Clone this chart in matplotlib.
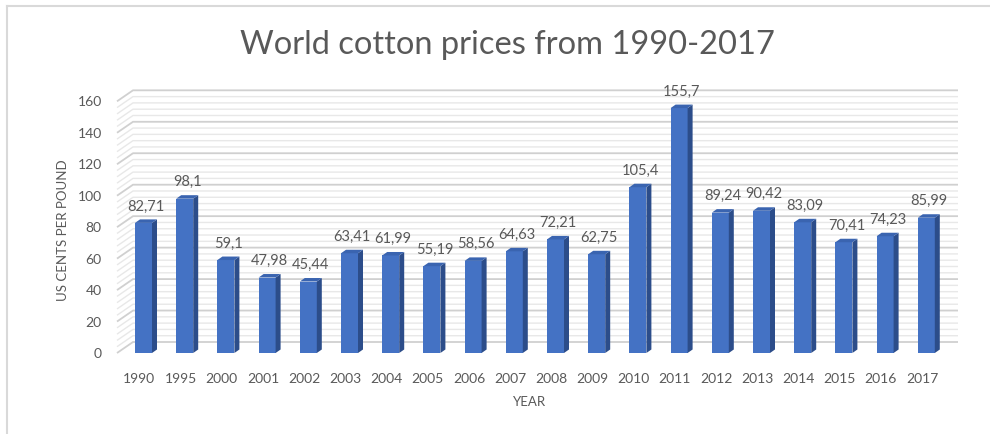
import matplotlib
matplotlib.use("Agg")
import matplotlib.pyplot as plt
from matplotlib.patches import Rectangle, Polygon
from matplotlib.lines import Line2D

years = ["1990", "1995", "2000", "2001", "2002", "2003", "2004", "2005", "2006", "2007",
         "2008", "2009", "2010", "2011", "2012", "2013", "2014", "2015", "2016", "2017"]
prices = [82.71, 98.1, 59.1, 47.98, 45.44, 63.41, 61.99, 55.19, 58.56, 64.63,
          72.21, 62.75, 105.4, 155.7, 89.24, 90.42, 83.09, 70.41, 74.23, 85.99]
labels = ["82,71", "98,1", "59,1", "47,98", "45,44", "63,41", "61,99", "55,19", "58,56", "64,63",
          "72,21", "62,75", "105,4", "155,7", "89,24", "90,42", "83,09", "70,41", "74,23", "85,99"]

plt.rcParams['font.family'] = ['Lato', 'DejaVu Sans']
TXT = "#595959"

W, H = 990, 434
fig = plt.figure(figsize=(W / 100, H / 100), dpi=100)

# axes placed in pixels so that the pseudo-3d pieces line up
px_x = 41.2      # pixels per category
px_y = 1.573     # pixels per price unit
x0_px, y0_px = 143.5, 353
L, R, T, B = 110, 965, 85, 370
ax = fig.add_axes([L / W, (H - B) / H, (R - L) / W, (B - T) / H])
ax.set_xlim((L - x0_px) / px_x, (R - x0_px) / px_x)
ax.set_ylim((y0_px - B) / px_y, (y0_px - T) / px_y)
for s in ax.spines.values():
    s.set_visible(False)

# back wall / side wall gridlines
wall_dx, wall_dy = 16 / px_x, 11 / px_y
x_front = (117 - x0_px) / px_x
x_right = (958 - x0_px) / px_x
for v in range(0, 161, 4):
    major = v % 20 == 0
    c = "#d0d0d0" if major else "#e8e8e8"
    lw = 1.3 if major else 1.0
    ax.plot([x_front, x_front + wall_dx, x_right], [v, v + wall_dy, v + wall_dy],
            color=c, lw=lw, zorder=1, solid_capstyle="butt")

# bars with side and top faces
bw = 17 / px_x
ddx, ddy = 5 / px_x, 3.5 / px_y
for i, v in enumerate(prices):
    ax.add_patch(Rectangle((i - bw / 2, 0), bw, v, facecolor="#4472c4", edgecolor="none", zorder=3))
    ax.add_patch(Polygon([(i + bw / 2, 0), (i + bw / 2 + ddx, ddy), (i + bw / 2 + ddx, v + ddy),
                          (i + bw / 2, v)], closed=True, facecolor="#2c4d8a", edgecolor="none", zorder=3))
    ax.add_patch(Polygon([(i - bw / 2, v), (i + bw / 2, v), (i + bw / 2 + ddx, v + ddy),
                          (i - bw / 2 + ddx, v + ddy)], closed=True, facecolor="#3a64b0",
                         edgecolor="none", zorder=3))
    ax.annotate(labels[i], (i + ddx / 2, v + ddy), xytext=(0, 6), textcoords="offset pixels",
                ha="center", va="bottom", fontsize=10.5, color=TXT, zorder=4)

ax.set_xticks([i - 0.1 for i in range(len(years))])
ax.set_xticklabels(years, fontsize=10, color=TXT)
ax.set_yticks(range(0, 161, 20))
ax.set_yticklabels([str(v) for v in range(0, 161, 20)], fontsize=10, color=TXT)
ax.tick_params(axis="x", length=0, pad=2)
ax.tick_params(axis="y", length=0, pad=6)

fig.text(63 / W, 1 - 230 / H, "US CENTS PER POUND", rotation=90, ha="center", va="center",
         fontsize=9.5, color=TXT)
fig.text(530 / W, 1 - 402 / H, "YEAR", ha="center", va="center", fontsize=9.5, color=TXT)
fig.text(507 / W, 1 - 45 / H, "World cotton prices from 1990-2017", ha="center", va="center",
         fontsize=23.5, fontweight="normal", color=TXT)

# chart frame
fig.add_artist(Line2D([7 / W, 1], [1 - 6 / H, 1 - 6 / H], color="#d9d9d9", lw=1.5))
fig.add_artist(Line2D([7 / W, 7 / W], [0, 1 - 6 / H], color="#d9d9d9", lw=1.5))

fig.savefig("out.png", dpi=100)
